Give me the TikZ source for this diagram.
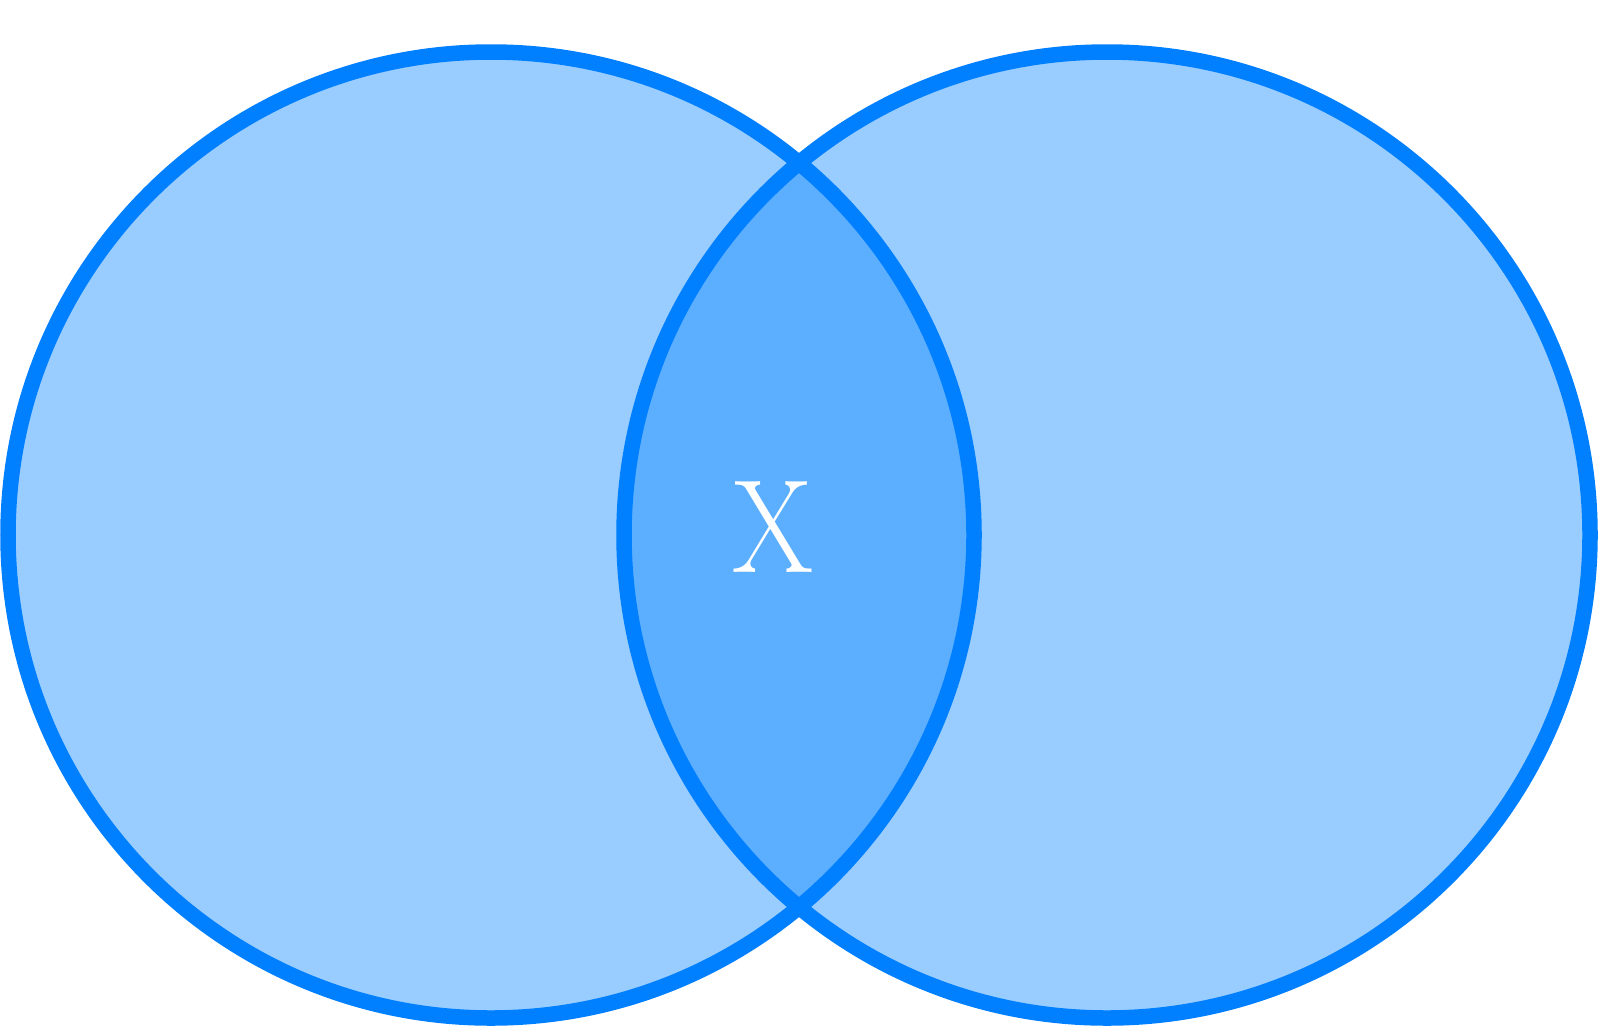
\documentclass[tikz,border=0pt]{standalone}
\begin{document}
\begin{tikzpicture}[x=1pt,y=-1pt,
  setfill/.style={fill=vblue,fill opacity=0.4,draw=none},
  setline/.style={draw=vblue,line width=15.5pt},
  lbl/.style={text=white,inner sep=0pt,xscale=0.88,transform shape,font=\fontsize{133}{133}\selectfont}]
\definecolor{vblue}{RGB}{0,128,255}
\useasboundingbox (0,0) rectangle (1624,1026);
\coordinate (A) at (491,535);
\coordinate (B) at (1107,535);
\fill[setfill] (A) circle (483);
\fill[setfill] (B) circle (483);
\draw[setline] (A) circle (483);
\draw[setline] (B) circle (483);
\node[lbl] (x) at (773,527) {X};
\end{tikzpicture}
\end{document}
